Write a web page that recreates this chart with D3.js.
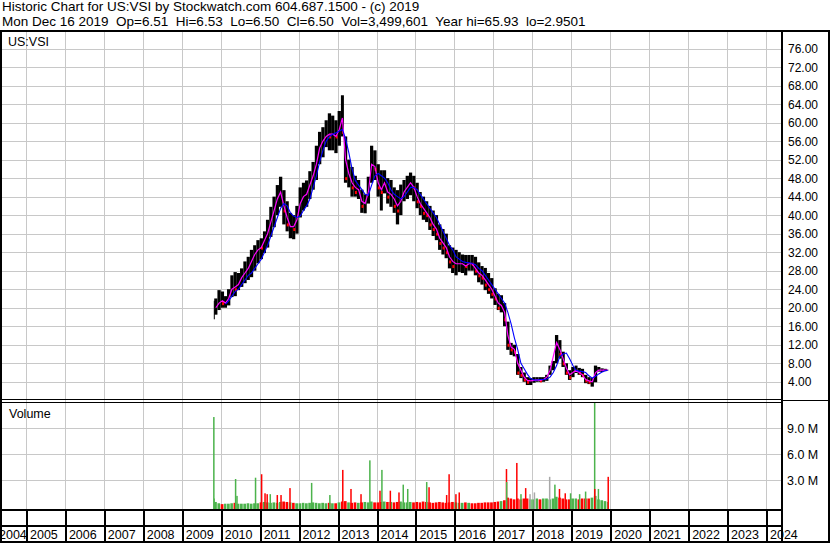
<!DOCTYPE html>
<html>
<head>
<meta charset="utf-8">
<script src="https://cdnjs.cloudflare.com/ajax/libs/d3/7.8.5/d3.min.js"></script>
<style>
body { margin: 0; background: #fff; }
svg { display: block; font-family: 'Liberation Sans', Arial, sans-serif; }
</style>
</head>
<body>
<script>
// monthly bars, Oct 2009 (IPO 28th) to Dec 16 2019
const firstDay = '2009-10-28'
const lastDay = '2019-12-16'
const months = d3.timeMonths(new Date(2009, 9, 1), new Date(2020, 0, 1)).map(d3.timeFormat('%Y-%m'))

const hi = [
  21.5, 22, 23.8,
  23.5, 22.5, 24, 27, 27.7, 27.5, 28.5, 30, 31, 32.5, 33.5, 34.6,
  35, 36.5, 39, 41.8, 44, 46.5, 48.3, 45.4, 43, 40.5, 40, 42,
  46, 47, 47.5, 49.5, 51.5, 55, 58, 59, 60.5, 62, 61.5, 60.5,
  62.5, 65.9, 57, 52, 50.4, 48.5, 47.6, 45.5, 44.5, 48.3, 55, 54,
  51, 49.7, 49.7, 48, 47.6, 46, 45.4, 46.6, 47.6, 48.5, 49.2, 48.5,
  47, 45, 44, 43, 42, 41, 40, 38, 37, 36, 33.5, 33,
  32.5, 32, 31.5, 31.4, 31.4, 31.4, 31, 29.8, 29, 28.6, 27.5, 26.4,
  24.2, 23, 22.7, 21, 17, 12.4, 12, 10, 7.2, 6, 5, 4.8,
  5, 5, 5, 5, 5.5, 7.5, 8.5, 14.1, 13, 10.5, 8, 6.5,
  7.2, 7.5, 7, 6.8, 5.5, 5, 4.8, 7.5, 7.2, 6.9, 6.8, 6.6
]
const lo = [
  17.5, 18.5, 19.5,
  20, 20, 20.5, 22.3, 22.5, 23.8, 24.5, 25.3, 26, 26.6, 28, 29.6,
  30.5, 31.8, 33, 35.3, 37.4, 40, 41.8, 38, 36.5, 35, 34.8, 36,
  39.5, 41, 41.8, 43.5, 45.5, 47.6, 51, 52.5, 54.7, 54, 54, 53.4,
  55, 57, 47, 46, 44, 44, 43.5, 40.5, 40.4, 42.5, 47, 47.6,
  44, 41, 44.7, 42.5, 41.8, 40.5, 38, 40, 43, 43.5, 44.3, 43,
  41.5, 40, 39, 38.5, 36.8, 35.5, 34.6, 32.5, 31.5, 30.7, 28.5, 27.5,
  27, 27.7, 27.5, 27, 28, 28, 27, 25.5, 25, 23.8, 23, 22,
  20.6, 19.5, 19, 16, 10.9, 9.8, 9.5, 5.5, 4.8, 4, 3.3, 3.3,
  3.8, 4, 4, 4, 4.2, 5.5, 6.5, 8, 9, 7.2, 5.5, 4.4,
  5, 5.9, 5.5, 5, 3.7, 3.5, 2.95, 3.9, 6.2, 6.1, 6.3, 6.45
]
const close = [
  19.5, 21, 22,
  21, 21.5, 23.5, 25, 24, 25.5, 27, 28, 29, 31, 32, 33.5,
  33, 35, 37, 40, 42, 44, 44.5, 41, 38, 38, 37, 40,
  44, 44, 45, 48, 50, 53, 56, 57, 58, 57, 58, 57,
  60, 58, 48, 48, 46, 45, 45, 42, 43, 47, 52, 50,
  46, 45, 47, 44, 44, 42, 41, 44, 45, 47, 47, 46,
  43, 42, 40.5, 40, 38, 37, 36, 34, 33, 32, 30, 29,
  29, 30, 30, 29, 30, 29.5, 28, 27, 26.5, 25, 24, 23,
  22, 20, 20, 17.5, 12, 11, 10.5, 6, 5.5, 4.5, 4, 4,
  4.3, 4.5, 4.3, 4.5, 5, 7, 8, 12, 10, 8, 6, 5,
  6.5, 6.5, 6, 5.5, 4.3, 4, 4, 6.2, 6.5, 6.5, 6.5, 6.5
]
// magenta (short) and blue (long) averages
const maShort = [
  null, 20, 21,
  21.5, 21, 22, 24, 24.5, 25, 26.5, 27.5, 28.5, 30, 31.5, 32.5,
  33, 34.5, 36, 38.5, 41, 43.5, 45, 42, 39.5, 37.5, 37.5, 39,
  42.5, 44, 44.5, 46.5, 48.5, 51, 54.5, 56, 57, 57.5, 57.5, 57,
  58.5, 61, 52, 49, 47, 46, 45.5, 43, 42.5, 45, 51, 50.5,
  47, 45.5, 47, 45, 44.5, 43.5, 42, 43, 45, 46, 47, 46,
  44, 42.5, 41.5, 40.5, 39.5, 38, 37, 35, 34, 33, 31, 30,
  29.5, 29.5, 29.5, 29, 29.5, 29.5, 28.5, 27.5, 27, 26, 25, 24,
  22.5, 21, 20.5, 19, 14, 11.5, 11, 8, 6.5, 5, 4.3, 4.2,
  4.3, 4.4, 4.3, 4.5, 5, 6.5, 9.5, 12.5, 11, 9, 7, 5.5,
  6, 6.5, 6, 5.5, 4.5, 4.2, 4, 6, 6.5, 6.5, 6.5, 6.5
]
const maLong = [
  null, null, null,
  null, 20.8, 21.5, 22.5, 23.5, 24, 25, 26, 27, 27.5, 28.5, 29.5,
  30.5, 32, 33.5, 35.5, 37.5, 39.5, 41.5, 42.5, 42, 40.5, 39.8, 39.5,
  39.8, 41, 42, 43.5, 46, 48.5, 51.5, 54, 56, 57, 57.5, 57.8,
  58.2, 58.5, 56.5, 53.5, 50, 47.5, 46.5, 45.5, 44.5, 44.3, 46.5, 48.5,
  49, 48.5, 48, 47, 45.5, 44.5, 44, 43.5, 44, 45, 46, 46,
  45.5, 44.5, 43.5, 42.5, 41.5, 40.5, 39.5, 38, 36.5, 35, 33.5, 32.5,
  31, 30.5, 30, 29.8, 29.7, 29.6, 29.3, 28.5, 28, 27, 26, 25,
  24, 23, 22, 21, 19, 16.5, 13.5, 11, 8, 6.8, 5.6, 4.7,
  4.4, 4.4, 4.5, 4.5, 4.6, 5, 6, 7.5, 9.5, 10, 10.2, 9,
  7.5, 6.5, 6.3, 6.2, 6, 5.3, 4.8, 5.2, 5.7, 6.1, 6.4, 6.5
]
// typical daily volume per month, millions
const volBase = [
  0.9, 0.5, 0.35,
  .25, .3, .3, .35, .4, .3, .3, .3, .35, .3, .35, .35,
  .45, .5, .45, .4, .45, .4, .5, .55, .5, .45, .4, .35,
  .35, .4, .35, .4, .45, .4, .35, .4, .35, .4, .35, .35,
  .45, .55, .6, .45, .4, .45, .4, .45, .5, .45, .55, .45,
  .45, .5, .55, .5, .5, .45, .5, .55, .45, .45, .5, .45,
  .5, .45, .55, .5, .45, .4, .45, .5, .45, .4, .45, .5,
  .45, .4, .4, .45, .4, .35, .35, .4, .4, .45, .45, .45,
  .5, .55, .6, .7, 1.0, .9, .8, .9, .8, .9, .9, .8,
  .8, .9, .8, .9, .9, .8, .9, 1.1, 1.0, .9, .8, .8,
  .9, .9, .8, .9, .9, .9, 1.0, 1.2, .8, .7, .6, .5
]
// single heavy days: date, millions, colour
const volSpikes = [
  ['2009-10-28', 10.3, 'g'], ['2010-05-20', 3.15, 'g'], ['2010-06-02', 1.2, 'g'],
  ['2010-11-23', 3.3, 'g'], ['2011-01-19', 3.7, 'r'], ['2011-02-20', 1.5, 'r'],
  ['2011-03-12', 1.4, 'r'], ['2011-04-10', 1.4, 'g'], ['2011-06-15', 1.3, 'r'],
  ['2011-07-20', 1.3, 'r'], ['2011-10-12', 2.1, 'r'], ['2012-05-02', 2.7, 'g'],
  ['2012-10-20', 1.3, 'g'], ['2013-02-18', 4.2, 'r'], ['2013-05-06', 2.0, 'r'],
  ['2013-08-08', 1.4, 'r'], ['2013-10-30', 5.3, 'g'], ['2014-02-02', 1.8, 'r'],
  ['2014-02-20', 4.2, 'g'], ['2014-05-10', 1.8, 'r'], ['2014-07-30', 1.6, 'r'],
  ['2014-09-08', 2.5, 'g'], ['2014-10-20', 2.0, 'g'], ['2015-04-16', 2.8, 'g'],
  ['2015-05-08', 2.2, 'r'], ['2015-10-20', 1.3, 'r'], ['2015-11-12', 3.7, 'r'],
  ['2016-01-15', 1.4, 'r'], ['2016-02-15', 1.6, 'r'], ['2017-05-03', 4.3, 'r'],
  ['2017-05-05', 2.8, 'g'], ['2017-08-08', 5.0, 'r'], ['2017-09-16', 1.4, 'g'],
  ['2017-10-30', 2.1, 'r'], ['2017-12-10', 1.4, 'x'], ['2018-01-20', 1.6, 'x'],
  ['2018-06-12', 3.4, 'x'], ['2018-07-31', 2.5, 'g'], ['2018-09-12', 2.0, 'r'],
  ['2018-11-05', 1.5, 'r'], ['2018-12-25', 1.5, 'g'], ['2019-03-20', 1.4, 'g'],
  ['2019-05-15', 1.7, 'g'], ['2019-08-08', 13, 'g'], ['2019-08-09', 2.0, 'r'],
  ['2019-09-12', 2.0, 'g'], ['2019-12-13', 3.4, 'r']
]
const priceTicks = [4, 8, 12, 16, 20, 24, 28, 32, 36, 40, 44, 48, 52, 56, 60, 64, 68, 72, 76]
const volTicks = [3, 6, 9]
const yearLabels = ['2004', '2005', '2006', '2007', '2008', '2009', '2010', '2011', '2012', '2013',
  '2014', '2015', '2016', '2017', '2018', '2019', '2020', '2021', '2022', '2023', '2024']

const title1 = 'Historic Chart for US:VSI by Stockwatch.com 604.687.1500 - (c) 2019'
const title2 = 'Mon Dec 16 2019  Op=6.51  Hi=6.53  Lo=6.50  Cl=6.50  Vol=3,499,601  Year hi=65.93  lo=2.9501'

const width = 830
const height = 543
const plotLeft = 2, plotRight = 781
const priceTop = 31, priceBottom = 399
const volTop = 403, volBottom = 509

const parseDay = d3.timeParse('%Y-%m-%d')
const parseMonth = d3.timeParse('%Y-%m')
const colours = {g: '#4cb34c', r: '#ff0000', x: '#a8a8a8'}

const x = d3.scaleTime().domain([new Date(2005, 0, 1), new Date(2024, 0, 1)]).range([26, 766])
const y = d3.scaleLinear().domain([0, 80]).range([400.3, 30])
const yv = d3.scaleLinear().domain([0, 12]).range([506.3, 402.3])

const bars = months.map((m, i) => {
  let start = parseMonth(m)
  let end = d3.timeMonth.offset(start, 1)
  if (i == 0) start = parseDay(firstDay)
  if (i == months.length - 1) end = parseDay(lastDay)
  return {start: start, end: end, mid: new Date((+start + +end) / 2), hi: hi[i], lo: lo[i], cl: close[i],
    fast: maShort[i], slow: maLong[i], vol: volBase[i], up: i == 0 || close[i] >= close[i - 1]}
})

const svg = d3.select('body').append('svg').attr('width', width).attr('height', height)

svg.append('rect').attr('width', width).attr('height', height).attr('fill', '#fff')

const defs = svg.append('defs')
defs.append('clipPath').attr('id', 'clipPrice').append('rect')
  .attr('x', plotLeft).attr('y', priceTop).attr('width', plotRight - plotLeft).attr('height', priceBottom - priceTop)
defs.append('clipPath').attr('id', 'clipVol').append('rect')
  .attr('x', plotLeft).attr('y', volTop).attr('width', plotRight - plotLeft).attr('height', volBottom - volTop)

// header
const header = svg.append('g').style('font-size', '13.5px')
header.append('text').attr('x', 2).attr('y', 11).attr('xml:space', 'preserve').text(title1)
header.append('text').attr('x', 2).attr('y', 26).attr('xml:space', 'preserve').text(title2)

// grid
const years = yearLabels.slice(1).map(s => new Date(+s, 0, 1))
const grid = svg.append('g').attr('stroke', '#c8c8c8').attr('shape-rendering', 'crispEdges')
grid.selectAll('.vg').data(years).enter().append('line')
  .attr('x1', d => Math.round(x(d)) + 0.5).attr('x2', d => Math.round(x(d)) + 0.5)
  .attr('y1', priceTop).attr('y2', volBottom)
grid.selectAll('.hg').data(priceTicks).enter().append('line')
  .attr('x1', plotLeft).attr('x2', plotRight)
  .attr('y1', d => Math.round(y(d)) + 0.5).attr('y2', d => Math.round(y(d)) + 0.5)
grid.selectAll('.vh').data(volTicks).enter().append('line')
  .attr('x1', plotLeft).attr('x2', plotRight)
  .attr('y1', d => Math.round(yv(d)) + 0.5).attr('y2', d => Math.round(yv(d)) + 0.5)

// price bars
const price = svg.append('g').attr('clip-path', 'url(#clipPrice)')
price.selectAll('.bar').data(bars).enter().append('rect')
  .attr('x', d => x(d.start)).attr('width', d => Math.max(1, x(d.end) - x(d.start)))
  .attr('y', d => y(d.hi)).attr('height', d => y(d.lo) - y(d.hi))
  .attr('fill', '#000')
price.selectAll('.tick').data(bars.filter(d => !d.up)).enter().append('rect')
  .attr('x', d => x(d.end) - 2).attr('width', 2)
  .attr('y', d => y(d.cl) - 1).attr('height', 3)
  .attr('fill', '#ff0000')

const fastLine = d3.line().defined(d => d.fast != null).x(d => x(d.mid)).y(d => y(d.fast))
const slowLine = d3.line().defined(d => d.slow != null).x(d => x(d.mid)).y(d => y(d.slow))
price.append('path').attr('d', fastLine(bars)).attr('fill', 'none').attr('stroke', '#ff00ff').attr('stroke-width', 1.2)
price.append('path').attr('d', slowLine(bars)).attr('fill', 'none').attr('stroke', '#0000ff').attr('stroke-width', 1.1)

// volume
const vol = svg.append('g').attr('clip-path', 'url(#clipVol)')
vol.selectAll('.vb').data(bars).enter().append('rect')
  .attr('x', d => x(d.start)).attr('width', d => Math.max(1, x(d.end) - x(d.start) - 0.6))
  .attr('y', d => yv(d.vol)).attr('height', d => volBottom - yv(d.vol))
  .attr('fill', d => d.up ? colours.g : colours.r)
vol.selectAll('.vs').data(volSpikes).enter().append('rect')
  .attr('x', d => x(parseDay(d[0])) - 0.7).attr('width', 1.5)
  .attr('y', d => yv(d[1])).attr('height', d => volBottom - yv(d[1]))
  .attr('fill', d => colours[d[2]])

// frame
const frame = svg.append('g').attr('fill', '#000').attr('shape-rendering', 'crispEdges')
frame.append('rect').attr('x', 0).attr('y', 30).attr('width', width).attr('height', 2)
frame.append('rect').attr('x', 0).attr('y', 30).attr('width', 2).attr('height', height - 30)
frame.append('rect').attr('x', width - 2).attr('y', 30).attr('width', 2).attr('height', height - 30)
frame.append('rect').attr('x', plotRight).attr('y', 30).attr('width', 2).attr('height', height - 30)
frame.append('rect').attr('x', 0).attr('y', height - 2).attr('width', width).attr('height', 2)
frame.append('rect').attr('x', 0).attr('y', 399).attr('width', plotRight).attr('height', 1)
frame.append('rect').attr('x', 0).attr('y', 402).attr('width', plotRight).attr('height', 1)
frame.append('rect').attr('x', plotRight).attr('y', 400).attr('width', width - plotRight).attr('height', 1)
frame.append('rect').attr('x', 0).attr('y', 509).attr('width', plotRight).attr('height', 2)
frame.append('rect').attr('x', 0).attr('y', 525).attr('width', plotRight).attr('height', 2)
frame.selectAll('.div').data(years).enter().append('rect')
  .attr('x', d => Math.round(x(d)) - 0.5).attr('width', 2)
  .attr('y', 510).attr('height', height - 510)

// labels
const labels = svg.append('g').style('font-size', '12px')
labels.append('text').attr('x', 8).attr('y', 46).style('font-size', '12.5px').text('US:VSI')
labels.append('text').attr('x', 9).attr('y', 418).style('font-size', '12.5px').text('Volume')
labels.selectAll('.py').data(priceTicks).enter().append('text')
  .attr('x', 788).attr('y', d => y(d) + 4.5)
  .text(d => d.toFixed(2))
labels.selectAll('.vy').data(volTicks).enter().append('text')
  .attr('x', 787).attr('y', d => yv(d) + 4.5)
  .style('font-size', '12.5px')
  .text(d => d.toFixed(1) + ' M')
labels.selectAll('.yr').data(yearLabels).enter().append('text')
  .attr('x', d => Math.max(-1, x(new Date(+d, 0, 1)) + 4)).attr('y', 539)
  .style('font-size', '12.5px')
  .text(d => d)
</script>
</body>
</html>
